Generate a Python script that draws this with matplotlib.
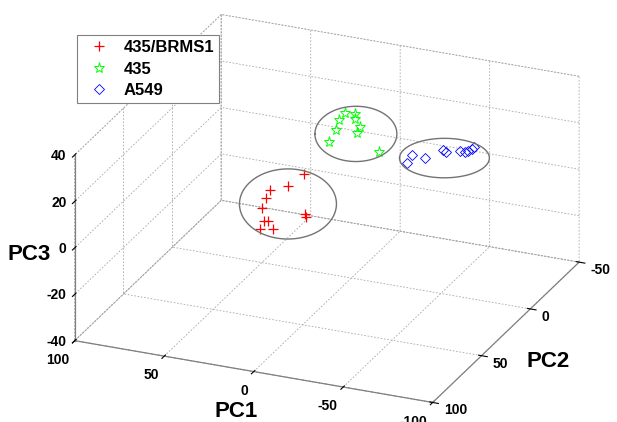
import numpy as np
import matplotlib
matplotlib.use("Agg")
import matplotlib.pyplot as plt

# ---- data (PCA scores) ----
pc1_brms1 = [12.4, 20.3, 30.9, 33.8, 34.8, 33.3, 32.0, 36.5, 28.1, 11.9, 10.4]
pc2_brms1 = [26.0, 28.0, 27.0, 25.5, 27.5, 28.0, 26.5, 27.0, 28.5, 26.0, 27.5]
pc3_brms1 = [13.7, 8.2, 4.6, 0.3, -3.2, -8.6, -9.0, -12.8, -11.2, -3.7, -4.2]

pc1_435 = [6.5, -0.1, 10.1, 1.0, -2.3, 11.5, 0.3, 14.8, -12.5]
pc2_435 = [-5.0, -4.0, -6.0, -5.5, -4.5, -5.0, -6.0, -4.5, -5.0]
pc3_435 = [28.2, 28.8, 24.4, 26.3, 23.6, 20.3, 19.9, 14.8, 13.7]

pc1_a549 = [-21.4, -24.6, -30.7, -40.9, -43.2, -51.1, -53.0, -55.8, -57.7, -58.6]
pc2_a549 = [-18.0, -17.0, -19.0, -18.5, -17.5, -18.0, -19.0, -17.5, -18.0, -18.5]
pc3_a549 = [5.2, 9.2, 8.3, 12.9, 12.9, 14.2, 13.6, 14.9, 15.8, 16.7]

groups = ["435/BRMS1", "435", "A549"]

# cluster outlines: centre (pc1, pc2, pc3) and radii along PC1 / PC3
ell_center = [(20.7, 27.0, 0.0), (0.2, -5.0, 20.0), (-42.2, -18.0, 10.0)]
ell_rx = [27.1, 22.9, 25.1]
ell_rz = [15.1, 11.9, 8.5]

xticks = [-100, -50, 0, 50, 100]
yticks = [-50, 0, 50, 100]
zticks = [-40, -20, 0, 20, 40]

plt.rcParams['font.family'] = ['Liberation Sans', 'DejaVu Sans']
plt.rcParams['font.weight'] = 'bold'
plt.rcParams['axes.labelweight'] = 'bold'
plt.rcParams['axes.unicode_minus'] = False
plt.rcParams['grid.linestyle'] = (0, (2, 2))
plt.rcParams['grid.color'] = '#a8a8a8'
plt.rcParams['grid.linewidth'] = 0.6

fig = plt.figure(figsize=(6.17, 4.22), dpi=100)
ax = fig.add_axes([-0.061, -0.100, 1.16, 1.18], projection='3d', proj_type='ortho')
ax.view_init(elev=24, azim=113)
ax.set_box_aspect((388, 374, 203), zoom=1.125)

ax.plot(pc1_brms1, pc2_brms1, pc3_brms1, linestyle='none', marker='+',
        color='red', markersize=7, markeredgewidth=0.9, label=groups[0])
ax.plot(pc1_435, pc2_435, pc3_435, linestyle='none', marker='*',
        color='lime', markerfacecolor='none', markersize=8, markeredgewidth=0.7, label=groups[1])
ax.plot(pc1_a549, pc2_a549, pc3_a549, linestyle='none', marker='D',
        color='blue', markerfacecolor='none', markersize=5, markeredgewidth=0.6, label=groups[2])

# ellipses round each group, kept level on screen
t = np.linspace(0, 2 * np.pi, 200)
for (cx, cy, cz), rx, rz in zip(ell_center, ell_rx, ell_rz):
    ex = cx + rx * np.cos(t)
    ez = cz + rz * np.sin(t) - 0.134 * (ex - cx)
    ax.plot(ex, np.full_like(t, cy), ez, color='0.45', linewidth=1.0)

ax.set_xlim(-100, 100)
ax.set_ylim(-50, 100)
ax.set_zlim(-40, 40)
ax.set_xticks(xticks)
ax.set_yticks(yticks)
ax.set_zticks(zticks)

# put the PC3 axis on the front-left edge, like the original
ax.zaxis.set_ticks_position('upper')
ax.zaxis.set_label_position('upper')

for axis in (ax.xaxis, ax.yaxis, ax.zaxis):
    axis.set_pane_color((1, 1, 1, 1))
    axis.pane.set_edgecolor('#a8a8a8')
    axis.pane.set_linestyle((0, (2, 2)))
    axis.pane.set_linewidth(0.6)
    axis.line.set_color('0.5')
    axis.line.set_linewidth(0.9)

ax.tick_params(labelsize=10)
ax.xaxis.set_tick_params(pad=-1)
ax.yaxis.set_tick_params(pad=-2)
ax.zaxis.set_tick_params(pad=-5)

# tick label alignment like MATLAB
for tk in ax.xaxis.get_major_ticks():
    tk.label1.set_ha('right')
    tk.label1.set_va('top')
for tk in ax.yaxis.get_major_ticks():
    tk.label1.set_ha('left')
    tk.label1.set_va('center')
for tk in ax.zaxis.get_major_ticks():
    tk.label1.set_ha('right')
    tk.label1.set_va('center')

ax.set_xlabel('PC1', fontsize=16, labelpad=2)
ax.set_ylabel('PC2', fontsize=16, labelpad=1)
ax.set_zlabel('PC3', fontsize=16, labelpad=-4)

leg = ax.legend(loc='upper left', bbox_to_anchor=(77 / 617, 1 - 35 / 422),
                bbox_transform=fig.transFigure, fancybox=False, edgecolor='0.5',
                fontsize=12, borderpad=0.3, borderaxespad=0, labelspacing=0.4,
                handlelength=2.0, handletextpad=0.5, framealpha=1)
leg.get_frame().set_linewidth(0.8)

fig.savefig('out.png', dpi=100)
